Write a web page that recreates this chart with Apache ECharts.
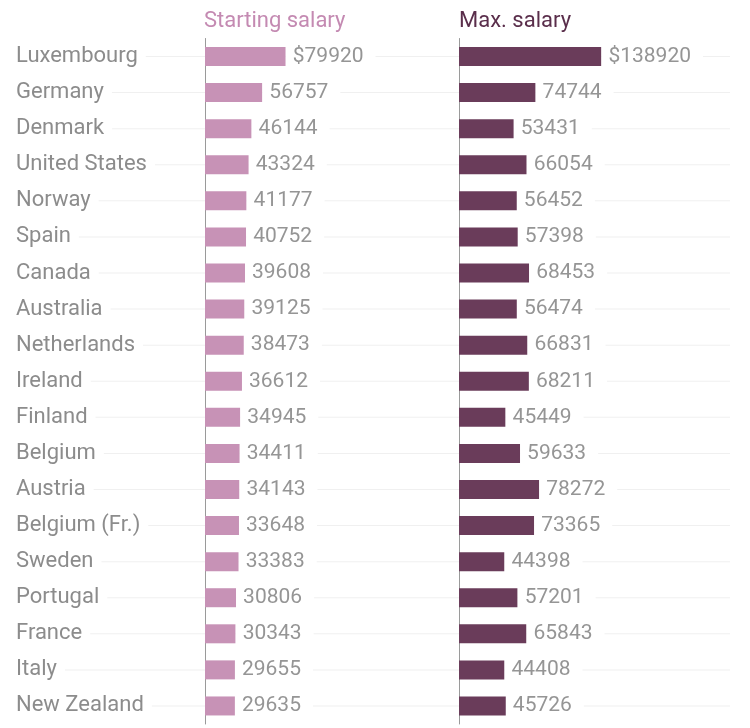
<!DOCTYPE html>
<html>
<head>
<meta charset="utf-8">
<script src="https://cdn.jsdelivr.net/npm/echarts@6/dist/echarts.min.js"></script>
<style>
  html, body { margin: 0; padding: 0; background: #fff; }
  #chart { width: 750px; height: 728px; }
</style>
</head>
<body>
<div id="chart"></div>
<script>
const countries = ['Luxembourg', 'Germany', 'Denmark', 'United States', 'Norway', 'Spain', 'Canada',
  'Australia', 'Netherlands', 'Ireland', 'Finland', 'Belgium', 'Austria', 'Belgium (Fr.)',
  'Sweden', 'Portugal', 'France', 'Italy', 'New Zealand'];
const startingSalary = [79920, 56757, 46144, 43324, 41177, 40752, 39608, 39125, 38473, 36612,
  34945, 34411, 34143, 33648, 33383, 30806, 30343, 29655, 29635];
const maxSalary = [138920, 74744, 53431, 66054, 56452, 57398, 68453, 56474, 66831, 68211,
  45449, 59633, 78272, 73365, 44398, 57201, 65843, 44408, 45726];

const font = 'Roboto, "Liberation Sans", sans-serif';
const gridTop = 38.5, gridHeight = 685.5;

function valueLabel(p) {
  return p.dataIndex === 0 ? '$' + p.value : String(p.value);
}

const chart = echarts.init(document.getElementById('chart'));
chart.setOption({
  backgroundColor: '#fff',
  animation: false,
  title: [
    { text: 'Starting salary', left: 204, top: 10, padding: 0,
      textStyle: { color: '#c48ab2', fontSize: 22, fontWeight: 'normal', fontFamily: font } },
    { text: 'Max. salary', left: 459, top: 10, padding: 0,
      textStyle: { color: '#5a2e4b', fontSize: 22, fontWeight: 'normal', fontFamily: font } }
  ],
  grid: [
    { left: 16, width: 714, top: gridTop, height: gridHeight },
    { left: 205, width: 101, top: gridTop, height: gridHeight },
    { left: 459, width: 164, top: gridTop, height: gridHeight }
  ],
  xAxis: [
    { gridIndex: 0, type: 'value', min: 0, max: 1, show: false },
    { gridIndex: 1, type: 'value', min: 0, max: 100000, show: false },
    { gridIndex: 2, type: 'value', min: 0, max: 160000, show: false }
  ],
  yAxis: [
    { gridIndex: 0, type: 'category', data: countries, inverse: true, show: false },
    { gridIndex: 1, type: 'category', data: countries, inverse: true,
      axisLine: { show: true, lineStyle: { color: '#9a9a9a', width: 1 } },
      axisTick: { show: false },
      axisLabel: { align: 'left', margin: 189, color: '#8c8c8c', fontSize: 22, fontFamily: font,
        backgroundColor: '#fff', padding: [2, 8, 2, 0] } },
    { gridIndex: 2, type: 'category', data: countries, inverse: true,
      axisLine: { show: true, lineStyle: { color: '#9a9a9a', width: 1 } },
      axisTick: { show: false }, axisLabel: { show: false } }
  ],
  series: [
    { type: 'bar', xAxisIndex: 0, yAxisIndex: 0, z: -1, silent: true,
      data: countries.map(() => 1), barWidth: 1,
      itemStyle: { color: '#f0f0f0' } },
    { type: 'bar', xAxisIndex: 1, yAxisIndex: 1, data: startingSalary, barWidth: 19,
      itemStyle: { color: '#c792b6' },
      label: { show: true, position: 'right', distance: 0, formatter: valueLabel,
        color: '#959595', fontSize: 21, fontFamily: font,
        backgroundColor: '#fff', padding: [2, 12, 2, 7] } },
    { type: 'bar', xAxisIndex: 2, yAxisIndex: 2, data: maxSalary, barWidth: 19,
      itemStyle: { color: '#6a3c5a' },
      label: { show: true, position: 'right', distance: 0, formatter: valueLabel,
        color: '#959595', fontSize: 21, fontFamily: font,
        backgroundColor: '#fff', padding: [2, 12, 2, 7] } }
  ]
});
</script>
</body>
</html>
